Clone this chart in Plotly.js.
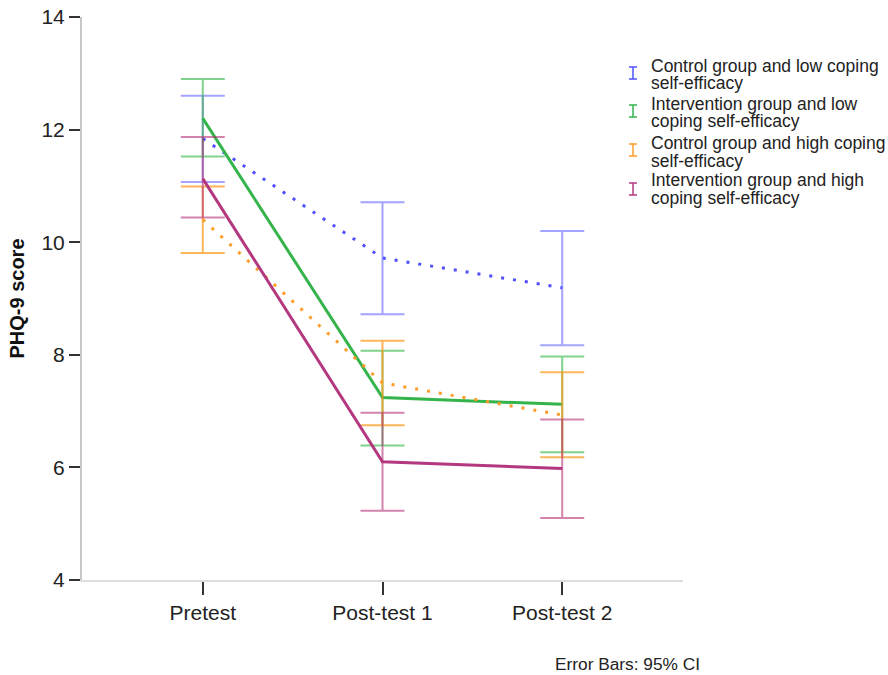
<!DOCTYPE html>
<html>
<head>
<meta charset="utf-8">
<script src="https://cdn.plot.ly/plotly-3.0.1.min.js"></script>
<style>html,body{margin:0;padding:0;background:#fff;}#chart{width:888px;height:675px;}</style>
</head>
<body>
<div id="chart"></div>
<script>
// ---- data ----
var timepoints = ["Pretest", "Post-test 1", "Post-test 2"];

var seriesNames = [
  ["Control group and low coping", "self-efficacy"],
  ["Intervention group and low", "coping self-efficacy"],
  ["Control group and high coping", "self-efficacy"],
  ["Intervention group and high", "coping self-efficacy"]
];

var ctrlLowMean  = [11.84, 9.72, 9.19];
var ctrlLowUpper = [12.60, 10.71, 10.20];
var ctrlLowLower = [11.07, 8.72, 8.17];

var intLowMean  = [12.20, 7.24, 7.12];
var intLowUpper = [12.90, 8.07, 7.97];
var intLowLower = [11.52, 6.39, 6.27];

var ctrlHighMean  = [10.40, 7.50, 6.93];
var ctrlHighUpper = [10.99, 8.25, 7.69];
var ctrlHighLower = [9.81, 6.75, 6.18];

var intHighMean  = [11.13, 6.10, 5.98];
var intHighUpper = [11.87, 6.97, 6.85];
var intHighLower = [10.44, 5.23, 5.10];

var yTicks = [4, 6, 8, 10, 12, 14];
var footnote = "Error Bars: 95% CI";
var yTitle = "PHQ-9 score";

// ---- styles ----
var lineColors = ["#5050ff", "#35b44c", "#ff9c28", "#b3387f"];
var errColors  = ["rgba(90,90,255,0.55)", "rgba(45,180,65,0.6)", "rgba(255,150,20,0.7)", "rgba(180,50,120,0.6)"];
var dashes     = ["3px,9px", "solid", "3px,9px", "solid"];

var means  = [ctrlLowMean, intLowMean, ctrlHighMean, intHighMean];
var uppers = [ctrlLowUpper, intLowUpper, ctrlHighUpper, intHighUpper];
var lowers = [ctrlLowLower, intLowLower, ctrlHighLower, intHighLower];

var traces = means.map(function (m, i) {
  return {
    type: "scatter",
    mode: "lines",
    x: timepoints,
    y: m,
    name: seriesNames[i].join(" "),
    showlegend: false,
    line: {color: lineColors[i], width: 3, dash: dashes[i]},
    error_y: {
      type: "data",
      symmetric: false,
      array: uppers[i].map(function (u, k) { return u - m[k]; }),
      arrayminus: lowers[i].map(function (l, k) { return m[k] - l; }),
      color: errColors[i],
      thickness: 2,
      width: 22
    }
  };
});

// plot area in pixels
var L = 82, R = 683, T = 17, B = 580;
function px(x) { return (x - L) / (R - L); }
function py(y) { return (B - y) / (B - T); }

var shapes = [];
var annotations = [];
var symTop = [67, 105, 144, 183];
var baseline1 = [71.7, 110, 149.3, 186.7];
seriesNames.forEach(function (lines, i) {
  var c = lineColors[i];
  var y0 = symTop[i], y1 = symTop[i] + 12, xc = 633;
  shapes.push({type: "line", xref: "paper", yref: "paper", x0: px(xc), x1: px(xc), y0: py(y0), y1: py(y1), line: {color: c, width: 1.5}});
  shapes.push({type: "line", xref: "paper", yref: "paper", x0: px(xc - 4), x1: px(xc + 4), y0: py(y0), y1: py(y0), line: {color: c, width: 1.5}});
  shapes.push({type: "line", xref: "paper", yref: "paper", x0: px(xc - 4), x1: px(xc + 4), y0: py(y1), y1: py(y1), line: {color: c, width: 1.5}});
  lines.forEach(function (t, k) {
    annotations.push({
      xref: "paper", yref: "paper", x: px(649), y: py(baseline1[i] + k * 17.6 - 6.2),
      xanchor: "left", yanchor: "middle", showarrow: false, text: t,
      font: {family: "Liberation Sans, Arial, sans-serif", size: 17.5, color: "#222"}
    });
  });
});
annotations.push({
  xref: "paper", yref: "paper", x: px(553), y: py(664), xanchor: "left", yanchor: "middle",
  showarrow: false, text: footnote,
  font: {family: "Liberation Sans, Arial, sans-serif", size: 17.3, color: "#222"}
});

var layout = {
  width: 888, height: 675,
  margin: {l: L, r: 888 - R, t: T, b: 675 - B, pad: 0},
  paper_bgcolor: "#fff", plot_bgcolor: "#fff",
  showlegend: false,
  font: {family: "Liberation Sans, Arial, sans-serif", color: "#222"},
  xaxis: {
    type: "category", range: [-0.672, 2.672],
    showgrid: false, zeroline: false,
    showline: true, linecolor: "#dedede", linewidth: 2,
    ticks: "outside", ticklen: 13, tickwidth: 2, tickcolor: "#333",
    tickfont: {size: 21, color: "#222"}
  },
  yaxis: {
    range: [4, 14], tickvals: yTicks,
    showgrid: false, zeroline: false,
    showline: true, linecolor: "#c8c8c8", linewidth: 2,
    ticks: "outside", ticklen: 11, tickwidth: 2, tickcolor: "#333",
    tickfont: {size: 21, color: "#222"},
    title: {text: yTitle, font: {size: 20, color: "#111", weight: "bold"}, standoff: 11}
  },
  shapes: shapes,
  annotations: annotations
};

Plotly.newPlot("chart", traces, layout, {displayModeBar: false, staticPlot: true});
</script>
</body>
</html>
